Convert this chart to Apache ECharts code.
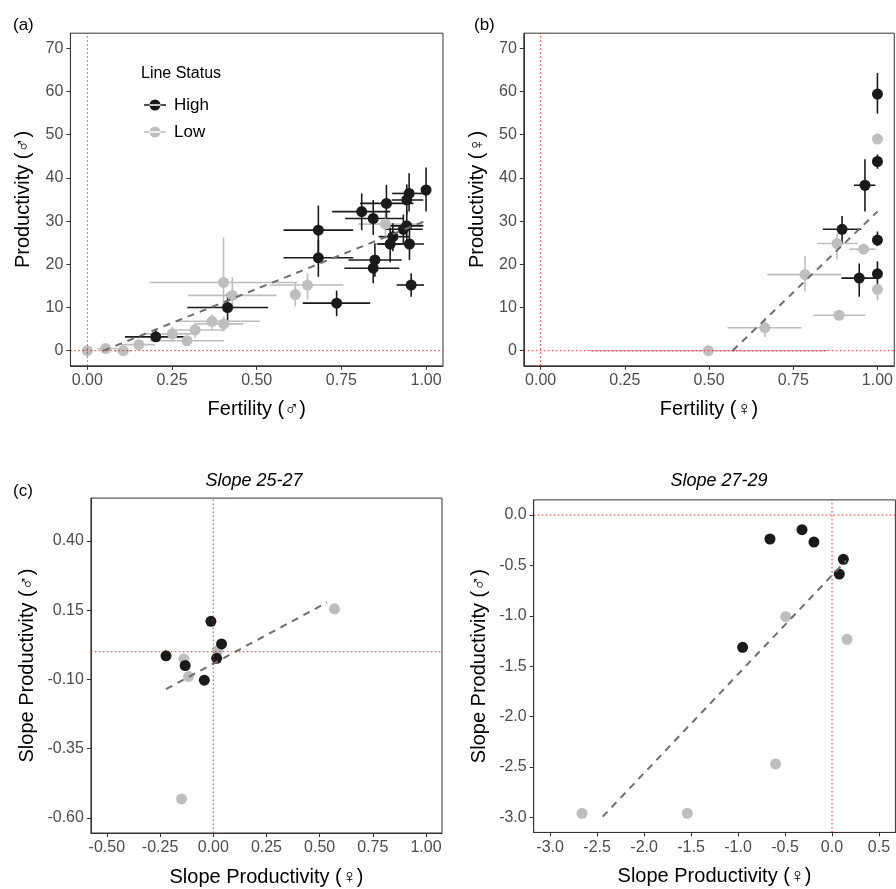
<!DOCTYPE html>
<html><head><meta charset="utf-8">
<script src="https://cdn.jsdelivr.net/npm/echarts@6/dist/echarts.min.js"></script>
<style>html,body{margin:0;padding:0;background:#fff}#c{width:896px;height:889px}</style>
</head><body><div id="c"></div>
<script>
// ---- Panel (a): [x, y, xlo, xhi, ylo, yhi] ----
const aHigh = [
  [0.202, 3.2, 0.111, 0.288, 2.1, 5.0],
  [0.414, 10.0, 0.295, 0.534, 6.9, 13.3],
  [0.682, 27.9, 0.579, 0.785, 21.8, 33.6],
  [0.682, 21.5, 0.579, 0.785, 17.1, 25.6],
  [0.736, 11.0, 0.636, 0.835, 8.0, 13.9],
  [0.810, 32.2, 0.723, 0.894, 27.9, 36.4],
  [0.844, 30.6, 0.761, 0.933, 26.8, 34.9],
  [0.883, 34.1, 0.805, 0.963, 29.8, 38.4],
  [0.950, 36.4, 0.900, 0.990, 32.2, 41.1],
  [0.943, 34.9, 0.899, 0.992, 31.5, 38.5],
  [1.000, 37.2, 1.000, 1.000, 32.2, 42.4],
  [0.943, 28.9, 0.883, 0.992, 25.0, 32.5],
  [0.933, 28.1, 0.880, 0.990, 24.5, 31.5],
  [0.902, 26.4, 0.860, 0.950, 23.0, 29.5],
  [0.894, 24.7, 0.860, 0.930, 20.5, 28.5],
  [0.951, 24.7, 0.854, 0.994, 21.0, 28.5],
  [0.849, 21.0, 0.771, 0.928, 17.1, 24.9],
  [0.844, 19.1, 0.759, 0.921, 15.6, 21.5],
  [0.956, 15.2, 0.913, 0.994, 12.5, 17.9]
];
const aLow = [
  [0.000, 0.0, 0.000, 0.000, 0.0, 0.0],
  [0.054, 0.5, 0.030, 0.090, 0.2, 0.9],
  [0.106, 0.0, 0.080, 0.130, 0.0, 0.0],
  [0.152, 1.4, 0.100, 0.200, 0.5, 2.3],
  [0.251, 3.9, 0.170, 0.320, 2.0, 5.5],
  [0.294, 2.3, 0.185, 0.404, 1.2, 3.5],
  [0.318, 4.8, 0.245, 0.404, 3.0, 6.5],
  [0.368, 6.8, 0.264, 0.510, 4.9, 8.4],
  [0.403, 6.2, 0.320, 0.460, 4.5, 8.0],
  [0.402, 15.8, 0.182, 0.620, 9.0, 26.2],
  [0.428, 12.8, 0.298, 0.559, 9.5, 17.0],
  [0.650, 15.2, 0.539, 0.756, 11.9, 17.9],
  [0.614, 13.0, 0.614, 0.614, 10.2, 15.9],
  [0.880, 29.3, 0.800, 0.990, 26.0, 32.5]
];
const aFit = [[0.047, 0.0], [1.0, 30.1]];

// ---- Panel (b) ----
const bHigh = [
  [1.000, 59.4, 1.000, 1.000, 54.9, 64.3],
  [1.000, 43.8, 1.000, 1.000, 42.1, 45.4],
  [0.963, 38.3, 0.930, 0.994, 32.2, 44.3],
  [0.895, 28.1, 0.838, 0.952, 24.8, 31.2],
  [1.000, 25.6, 1.000, 1.000, 24.2, 27.6],
  [0.946, 16.8, 0.893, 0.996, 12.5, 20.2],
  [1.000, 17.8, 1.000, 1.000, 14.6, 20.7]
];
const bLow = [
  [1.000, 49.0, 1.000, 1.000, 49.0, 49.0],
  [0.880, 24.8, 0.821, 0.942, 21.1, 27.1],
  [0.959, 23.5, 0.917, 0.994, 22.5, 24.5],
  [1.000, 14.2, 1.000, 1.000, 11.6, 16.3],
  [0.785, 17.6, 0.673, 0.893, 13.7, 22.0],
  [0.886, 8.2, 0.810, 0.964, 7.5, 8.9],
  [0.666, 5.3, 0.555, 0.775, 3.1, 7.5],
  [0.498, 0.0, 0.146, 0.851, 0.0, 0.0]
];
const bFit = [[0.570, 0.0], [1.0, 32.2]];

// ---- Panel (c) Slope 25-27: [x, y] ----
const cHigh = [[-0.222, -0.015], [-0.132, -0.050], [-0.042, -0.103], [-0.011, 0.110], [0.039, 0.028], [0.016, -0.024]];
const cLow = [[-0.138, -0.026], [-0.116, -0.090], [0.021, 0.005], [0.570, 0.155], [-0.149, -0.532]];
const cFit = [[-0.222, -0.135], [0.535, 0.178]];

// ---- Panel (d) Slope 27-29 ----
const dHigh = [[-0.660, -0.238], [-0.319, -0.146], [-0.192, -0.268], [0.121, -0.440], [0.078, -0.586], [-0.951, -1.313]];
const dLow = [[-0.493, -1.009], [0.160, -1.234], [-0.600, -2.471], [-2.661, -2.961], [-1.540, -2.961]];
const dFit = [[-2.441, -2.994], [0.149, -0.453]];

// ---- tick values ----
const fertTicks = [0, 0.25, 0.5, 0.75, 1];
const prodTicks = [0, 10, 20, 30, 40, 50, 60, 70];
const cXTicks = [-0.5, -0.25, 0, 0.25, 0.5, 0.75, 1];
const cYTicks = [-0.6, -0.35, -0.1, 0.15, 0.4];
const dXTicks = [-3, -2.5, -2, -1.5, -1, -0.5, 0, 0.5];
const dYTicks = [-3, -2.5, -2, -1.5, -1, -0.5, 0];

// axis extents [xmin, xmax, ymin, ymax]
const extA = [-0.05, 1.05, -3.5, 73.5];
const extB = [-0.05, 1.05, -3.5, 73.5];
const extC = [-0.575, 1.075, -0.655, 0.555];
const extD = [-3.175, 0.675, -3.15, 0.15];

const FONT = 'Liberation Sans, Arial, sans-serif';
const BLACK = '#1a1a1a', GREY = '#bebebe';

function axis(gi, min, max, ticks, fmt, name, gap) {
  return {
    type: 'value', min: min, max: max, gridIndex: gi,
    name: name, nameLocation: 'middle', nameGap: gap,
    nameTextStyle: {fontFamily: FONT, fontSize: 20, color: '#000'},
    axisLine: {show: true, onZero: false, lineStyle: {color: '#333', width: 1}},
    axisTick: {show: true, length: 4, customValues: ticks, lineStyle: {color: '#333'}},
    axisLabel: {customValues: ticks, formatter: v => fmt(v), fontFamily: FONT, fontSize: 16, color: '#4d4d4d', margin: 7},
    splitLine: {show: false}
  };
}
function errSeries(data, color, gi) {
  return {
    type: 'custom', xAxisIndex: gi, yAxisIndex: gi, data: data, silent: true, z: 2,
    encode: {x: [0, 2, 3], y: [1, 4, 5]},
    renderItem: (params, api) => {
      const x = api.value(0), y = api.value(1);
      const a = api.coord([api.value(2), y]), b = api.coord([api.value(3), y]);
      const c = api.coord([x, api.value(4)]), d = api.coord([x, api.value(5)]);
      return {type: 'group', children: [
        {type: 'line', shape: {x1: a[0], y1: a[1], x2: b[0], y2: b[1]}, style: {stroke: color, lineWidth: 1.6}},
        {type: 'line', shape: {x1: c[0], y1: c[1], x2: d[0], y2: d[1]}, style: {stroke: color, lineWidth: 1.6}}
      ]};
    }
  };
}
function pts(data, name, color, gi) {
  return {type: 'scatter', name: name, xAxisIndex: gi, yAxisIndex: gi, data: data.map(r => [r[0], r[1]]),
    symbolSize: 11, itemStyle: {color: color, opacity: 1}, z: 3, silent: true};
}
function fit(data, gi) {
  return {type: 'line', xAxisIndex: gi, yAxisIndex: gi, data: data, showSymbol: false, silent: true, z: 4,
    lineStyle: {color: '#6e6e6e', width: 2, type: [7, 6]}};
}
function refLine(data, gi) {
  return {type: 'line', xAxisIndex: gi, yAxisIndex: gi, data: data, showSymbol: false, silent: true, z: 5,
    lineStyle: {color: '#ff0000', width: 1, type: [1.5, 2.5], opacity: 0.85}};
}
function refs(ext, gi) {
  return [refLine([[0, ext[2]], [0, ext[3]]], gi), refLine([[ext[0], 0], [ext[1], 0]], gi)];
}

const f2 = v => v.toFixed(2), f1 = v => v.toFixed(1), f0 = v => String(Math.round(v));

const grids = [
  {left: 70.4, top: 33.2, width: 372.6, height: 332.6},
  {left: 523.8, top: 33.2, width: 372.6, height: 332.6},
  {left: 90.9, top: 498.1, width: 351.1, height: 334.9},
  {left: 533.7, top: 499.9, width: 361.7, height: 332.5}
].map(g => Object.assign(g, {show: true, borderColor: '#333', borderWidth: 1, containLabel: false}));

const xAxes = [
  axis(0, extA[0], extA[1], fertTicks, f2, 'Fertility (♂)', 34),
  axis(1, extB[0], extB[1], fertTicks, f2, 'Fertility (♀)', 34),
  axis(2, extC[0], extC[1], cXTicks, f2, 'Slope Productivity (♀)', 34),
  axis(3, extD[0], extD[1], dXTicks, f1, 'Slope Productivity (♀)', 34)
];
const yAxes = [
  axis(0, extA[2], extA[3], prodTicks, f0, 'Productivity (♂)', 37),
  axis(1, extB[2], extB[3], prodTicks, f0, 'Productivity (♀)', 36),
  axis(2, extC[2], extC[3], cYTicks, f2, 'Slope Productivity (♂)', 53),
  axis(3, extD[2], extD[3], dYTicks, f1, 'Slope Productivity (♂)', 44)
];

const option = {
  animation: false,
  backgroundColor: '#fff',
  grid: grids, xAxis: xAxes, yAxis: yAxes,
  title: [
    {text: '(a)', left: 8, top: 12, textStyle: {fontFamily: FONT, fontSize: 17, fontWeight: 'normal', color: '#000'}},
    {text: '(b)', left: 469, top: 12, textStyle: {fontFamily: FONT, fontSize: 17, fontWeight: 'normal', color: '#000'}},
    {text: '(c)', left: 8, top: 478, textStyle: {fontFamily: FONT, fontSize: 17, fontWeight: 'normal', color: '#000'}},
    {text: 'Slope 25-27', left: 249, top: 467, textAlign: 'center', textStyle: {fontFamily: FONT, fontSize: 18, fontStyle: 'italic', fontWeight: 'normal', color: '#000'}},
    {text: 'Slope 27-29', left: 714, top: 467, textAlign: 'center', textStyle: {fontFamily: FONT, fontSize: 18, fontStyle: 'italic', fontWeight: 'normal', color: '#000'}},
    {text: 'Line Status', left: 136, top: 61, textStyle: {fontFamily: FONT, fontSize: 16, fontWeight: 'normal', color: '#000'}}
  ],
  legend: {
    data: ['High', 'Low'], orient: 'vertical', left: 139, top: 90, itemGap: 7,
    itemWidth: 22, itemHeight: 11, selectedMode: false,
    icon: 'path://M0,4.75 L22,4.75 L22,6.25 L0,6.25 Z M5.5,5.5 A5.5,5.5 0 1 0 16.5,5.5 A5.5,5.5 0 1 0 5.5,5.5 Z',
    textStyle: {fontFamily: FONT, fontSize: 17, color: '#000', lineHeight: 20, padding: [0, 0, 0, 3]}
  },
  series: [
    errSeries(aLow, GREY, 0), errSeries(aHigh, BLACK, 0),
    pts(aLow, 'Low', GREY, 0), pts(aHigh, 'High', BLACK, 0), fit(aFit, 0), ...refs(extA, 0),
    errSeries(bLow, GREY, 1), errSeries(bHigh, BLACK, 1),
    pts(bLow, 'Low', GREY, 1), pts(bHigh, 'High', BLACK, 1), fit(bFit, 1), ...refs(extB, 1),
    pts(cLow, 'Low', GREY, 2), pts(cHigh, 'High', BLACK, 2), fit(cFit, 2), ...refs(extC, 2),
    pts(dLow, 'Low', GREY, 3), pts(dHigh, 'High', BLACK, 3), fit(dFit, 3), ...refs(extD, 3)
  ]
};
const chart = echarts.init(document.getElementById('c'), null, {renderer: 'canvas'});
chart.setOption(option);
</script></body></html>
